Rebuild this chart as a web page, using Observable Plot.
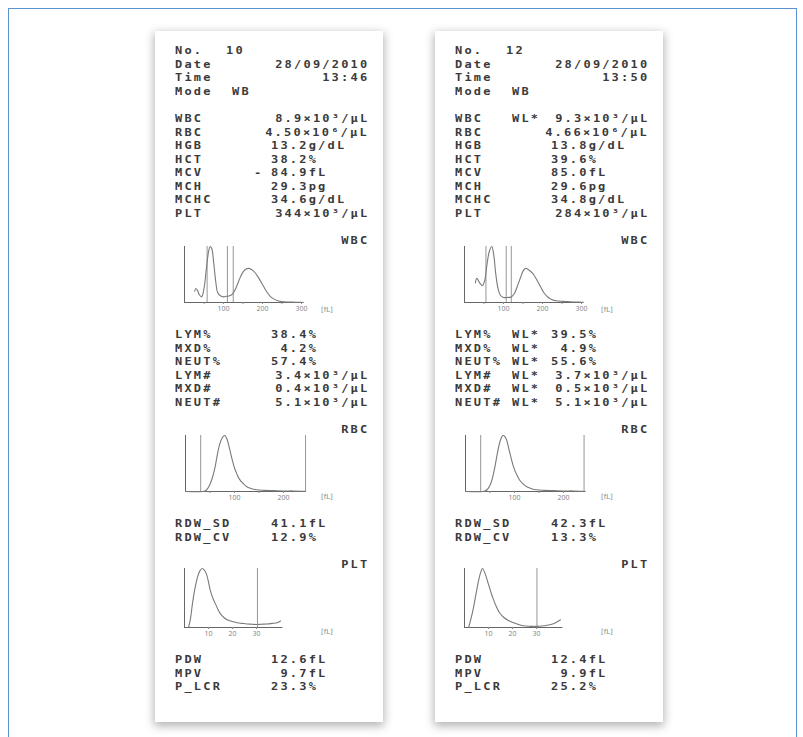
<!DOCTYPE html>
<html><head><meta charset="utf-8">
<script src="https://cdn.jsdelivr.net/npm/d3@7"></script>
<script src="https://cdn.jsdelivr.net/npm/@observablehq/plot@0.6"></script>
<style>
html,body{margin:0;padding:0;background:#fff;}
#stage{position:relative;width:803px;height:737px;overflow:hidden;background:#fff;}
#frame{position:absolute;left:8px;top:8px;width:789px;height:760px;border:1px solid #5b93d3;box-sizing:border-box;}
.paper{position:absolute;top:31px;width:228px;height:691px;background:#fff;box-shadow:0 3px 9px 1px rgba(0,0,0,0.30);}
.t{position:absolute;font-family:"DejaVu Sans Mono",monospace;font-size:12px;line-height:12px;letter-spacing:2.2px;color:#3a3a3a;font-weight:bold;white-space:pre;transform:scaleY(0.88);transform-origin:50% 50%;}
.s{position:absolute;font-family:"DejaVu Sans",sans-serif;font-size:7px;line-height:8px;color:#888;white-space:pre;}
</style></head>
<body>
<div id="stage"><div id="frame"></div><div class="paper" style="left:155px"></div><div class="paper" style="left:435px"></div></div>
<script>
// ---- text data ----
const headerLabels = ["No.", "Date", "Time", "Mode"];
const mainLabels = ["WBC","RBC","HGB","HCT","MCV","MCH","MCHC","PLT"];
const diffLabels = ["LYM%","MXD%","NEUT%","LYM#","MXD#","NEUT#"];
const rdwLabels = ["RDW_SD","RDW_CV"];
const pltLabels = ["PDW","MPV","P_LCR"];
const sectionLabels = ["WBC","RBC","PLT"];

const s1Header = ["10","28/09/2010","13:46","WB"];
const s2Header = ["12","28/09/2010","13:50","WB"];
const s1Main = ["8.9×10³/μL","4.50×10⁶/μL","13.2g/dL","38.2%","84.9fL","29.3pg","34.6g/dL","344×10³/μL"];
const s1MainFlags = ["","","","","-","","",""];
const s2Main = ["9.3×10³/μL","4.66×10⁶/μL","13.8g/dL","39.6%","85.0fL","29.6pg","34.8g/dL","284×10³/μL"];
const s2MainFlags = ["WL*","","","","","","",""];
const s1Diff = ["38.4%"," 4.2%","57.4%","3.4×10³/μL","0.4×10³/μL","5.1×10³/μL"];
const s1DiffFlags = ["","","","","",""];
const s2Diff = ["39.5%"," 4.9%","55.6%","3.7×10³/μL","0.5×10³/μL","5.1×10³/μL"];
const s2DiffFlags = ["WL*","WL*","WL*","WL*","WL*","WL*"];
const s1Rdw = ["41.1fL","12.9%"];
const s2Rdw = ["42.3fL","13.3%"];
const s1Plt = ["12.6fL"," 9.7fL","23.3%"];
const s2Plt = ["12.4fL"," 9.9fL","25.2%"];

// ---- histogram data (fL, relative height %) ----
const wbcTicks = [50,100,150,200,250,300];
const wbcTickLabels = [100,200,300];
const rbcTicks = [50,100,150,200];
const rbcTickLabels = [100,200];
const pltTicks = [10,20,30];
const pltTickLabels = [10,20,30];

const wbc1Fl = [26,29,33,38,44,50,56,62,66,70,75,80,85,92,100,108,116,124,132,140,148,156,164,172,180,190,200,210,220,230,240,250,260,275,290,305];
const wbc1H  = [20,25,22,14,10,25,60,92,100,96,70,38,18,12,10,11,12,16,26,40,52,59,61,59,54,44,32,20,11,6,3,1.5,1,0.6,0.3,0];
const wbc1Disc = [58,110,125];
const wbc2Fl = [28,31,35,40,46,52,58,64,70,75,80,86,92,100,110,120,128,136,144,150,157,165,175,185,195,205,215,225,235,250,265,280,295,305];
const wbc2H  = [35,43,40,34,30,40,70,92,100,85,52,25,13,9,9,10,16,30,45,56,61,58,52,41,28,16,9,5,3,2,1.5,1,0.6,0.4];
const wbc2Disc = [55,107,120];

const rbc1Fl = [0,35,40,45,50,55,60,65,70,75,80,85,90,95,100,105,110,118,126,135,145,160,180,200,220,245];
const rbc1H  = [0,0,1,5,13,25,42,66,85,96,100,93,76,58,42,31,22,14,8,5,3,2,1.5,1,1,0.5];
const rbc1Disc = [31,245];
const rbc2Fl = [0,35,40,45,50,55,60,65,70,75,78,83,88,93,98,104,110,118,126,135,145,160,180,200,220,242];
const rbc2H  = [0,0,1,4,11,24,44,68,88,99,100,94,78,60,44,31,21,13,8,5,3,2,1.5,1,1,0.5];
const rbc2Disc = [31,242];

const plt1Fl = [1.7,2.5,3.3,4.3,5.4,6.4,7.4,8.3,9.2,10,10.8,11.8,12.9,14,15,16.4,17.8,20,22,24,26,28,30,32,34.5,36.5,38.6,40];
const plt1H  = [0,15,40,65,85,96,100,97,90,77,62,50,40,30,23,17,13,10,8,7,6,5.5,5,5.5,6,7,8,11];
const plt1Disc = [30.4];
const plt2Fl = [1.7,2.7,3.7,4.8,5.8,6.7,7.5,8.7,10,11,12,13.3,14.6,16.4,18.3,20.5,22.5,24.5,26.7,29,31,33.5,36,38,40];
const plt2H  = [0,15,33,57,78,93,100,90,73,60,48,35,25,17,12,8,5,3,2,2,2,3,5,8,13];
const plt2Disc = [30.2];

// ---- layout ----
const stage = document.getElementById("stage");
const LS = 2.2;
function txt(str, x, y, anchor, cls) {
  cls = cls || "t";
  const el = document.createElement("div");
  el.className = cls; el.textContent = str;
  stage.appendChild(el);
  const h = el.offsetHeight;
  el.style.top = (y - h/2) + "px";
  if (anchor === "end") el.style.left = (x - el.offsetWidth + (cls === "t" ? LS : 0)) + "px";
  else el.style.left = x + "px";
}

function hist(o) {
  const mL = 6, mR = 6, mT = 2, mB = 14;
  const w = mL + (o.x1 - o.x0) * o.k + mR;
  const h = mT + (o.base - o.top) + mB;
  const data = o.fl.map((f, i) => ({f, h: o.hv[i]}));
  const p = Plot.plot({
    width: w, height: h, marginLeft: mL, marginRight: mR, marginTop: mT, marginBottom: mB,
    style: {background: "transparent", overflow: "visible", color: "#888"},
    x: {domain: [o.x0, o.x1]},
    y: {domain: [0, 100], axis: null},
    marks: [
      Plot.ruleX([o.x0], {stroke: "#666", strokeWidth: 1}),
      Plot.ruleX(o.disc, {stroke: "#8a8a8a", strokeWidth: 0.9}),
      Plot.ruleY([0], {stroke: "#666", strokeWidth: 1.2}),
      Plot.line(data, {x: "f", y: "h", curve: "catmull-rom", stroke: "#7a7a7a", strokeWidth: 1.1}),
      Plot.axisX({ticks: o.ticks, tickSize: 2, tickPadding: 2, fontSize: 7, label: null,
        stroke: "#888", fill: "#888",
        tickFormat: d => o.labels.includes(d) ? String(d) : ""})
    ]
  });
  p.style.position = "absolute";
  p.style.left = (o.ox + o.x0 * o.k - mL) + "px";
  p.style.top = (o.top - mT) + "px";
  stage.appendChild(p);
}

const slips = [
  {dx: 0, header: s1Header, main: s1Main, mainFlags: s1MainFlags, diff: s1Diff, diffFlags: s1DiffFlags, rdw: s1Rdw, plt: s1Plt,
   wbc: [wbc1Fl, wbc1H, wbc1Disc], rbc: [rbc1Fl, rbc1H, rbc1Disc], pl: [plt1Fl, plt1H, plt1Disc]},
  {dx: 280, header: s2Header, main: s2Main, mainFlags: s2MainFlags, diff: s2Diff, diffFlags: s2DiffFlags, rdw: s2Rdw, plt: s2Plt,
   wbc: [wbc2Fl, wbc2H, wbc2Disc], rbc: [rbc2Fl, rbc2H, rbc2Disc], pl: [plt2Fl, plt2H, plt2Disc]}
];

const P = 13.5;
function putValue(v, dx, y) {
  if (v.includes("×")) txt(v, 367 + dx, y, "end");
  else txt(v, 271 + dx, y);
}

for (const s of slips) {
  const dx = s.dx, L = 175 + dx;
  headerLabels.forEach((lab, i) => txt(lab, L, 50 + i * P));
  txt(s.header[0], 226 + dx, 50);
  txt(s.header[1], 367 + dx, 50 + P, "end");
  txt(s.header[2], 367 + dx, 50 + 2 * P, "end");
  txt(s.header[3], 232 + dx, 50 + 3 * P);

  mainLabels.forEach((lab, i) => {
    const y = 118 + i * P;
    txt(lab, L, y);
    const f = s.mainFlags[i];
    if (f === "-") txt(f, 254 + dx, y);
    else if (f) txt(f, 232 + dx, y);
    putValue(s.main[i], dx, y);
  });

  txt(sectionLabels[0], 367 + dx, 240, "end");
  hist({ox: 184 + dx, k: 0.39, x0: 0, x1: 305, top: 246, base: 302,
        fl: s.wbc[0], hv: s.wbc[1], disc: s.wbc[2], ticks: wbcTicks, labels: wbcTickLabels});
  txt("[fL]", 321 + dx, 310, "start", "s");

  diffLabels.forEach((lab, i) => {
    const y = 334 + i * P;
    txt(lab, L, y);
    if (s.diffFlags[i]) txt(s.diffFlags[i], 232 + dx, y);
    putValue(s.diff[i], dx, y);
  });

  txt(sectionLabels[1], 367 + dx, 429, "end");
  hist({ox: 185 + dx, k: 0.49, x0: 0, x1: 246, top: 435, base: 491,
        fl: s.rbc[0], hv: s.rbc[1], disc: s.rbc[2], ticks: rbcTicks, labels: rbcTickLabels});
  txt("[fL]", 321 + dx, 497, "start", "s");

  rdwLabels.forEach((lab, i) => {
    const y = 523 + i * P;
    txt(lab, L, y);
    putValue(s.rdw[i], dx, y);
  });

  txt(sectionLabels[2], 367 + dx, 564, "end");
  hist({ox: 184 + dx, k: 2.4, x0: 0, x1: 41, top: 568, base: 627,
        fl: s.pl[0], hv: s.pl[1], disc: s.pl[2], ticks: pltTicks, labels: pltTickLabels});
  txt("[fL]", 321 + dx, 632, "start", "s");

  pltLabels.forEach((lab, i) => {
    const y = 659 + i * P;
    txt(lab, L, y);
    putValue(s.plt[i], dx, y);
  });
}
</script>
</body></html>
